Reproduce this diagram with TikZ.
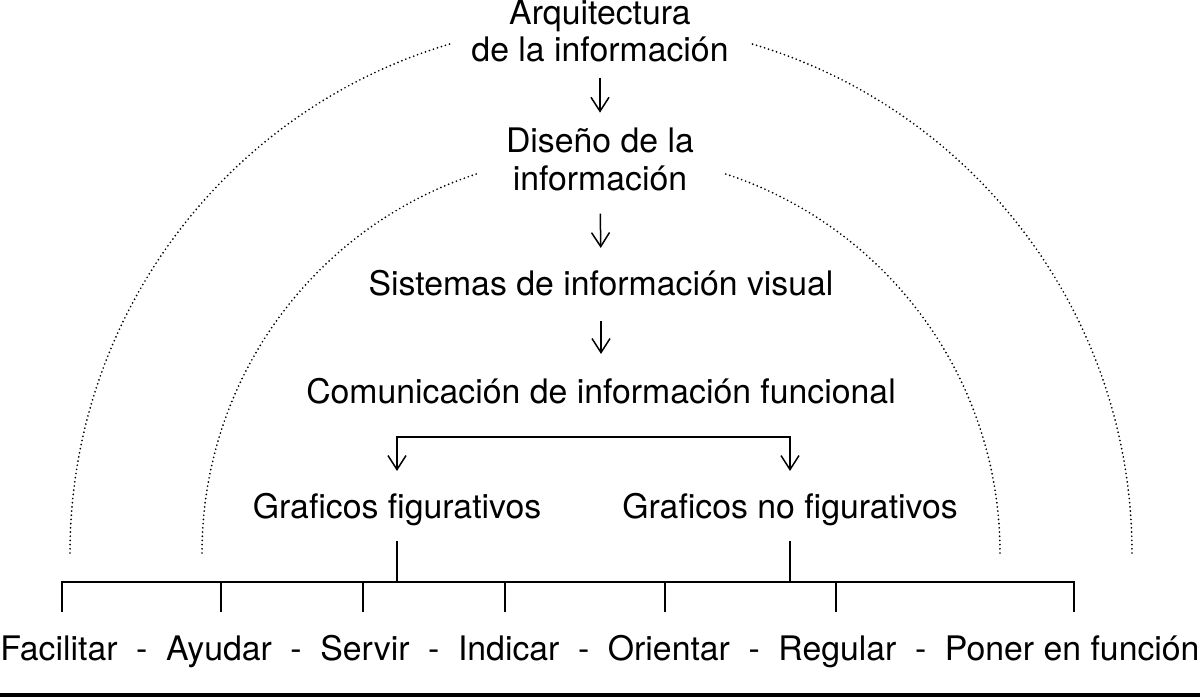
\documentclass[tikz,border=0pt]{standalone}
\usepackage{fontspec}
\setmainfont{TeX Gyre Heros}
\usetikzlibrary{arrows.meta}
\newcommand{\guion}{\hspace{0.55em}-\hspace{0.55em}}

\begin{document}
\begin{tikzpicture}[x=1pt,y=-1pt]
    \tikzstyle{every node}+=[inner sep=0pt, anchor=base, font=\fontsize{33.8}{37.5}\selectfont]
    \tikzstyle{texto}=[align=center]
    \tikzstyle{flecha}=[line width=1.5pt, -{Straight Barb[length=14pt,width=18pt]}]
    \tikzstyle{linea}=[line width=1.8pt]
    \tikzstyle{punteado}=[line width=1.9pt, line cap=round, dash pattern=on 0pt off 4.2pt]
    \useasboundingbox (0,0) rectangle (1200,698);
    % textos
    \node [texto] (arq) at (600,62) {Arquitectura\\de la información};
    \node [texto] (dis) at (600,190) {Diseño de la\\información};
    \node (sis) at (601,295) {Sistemas de información visual};
    \node (com) at (601,403) {Comunicación de información funcional};
    \node (gfig) at (397,518) {Graficos figurativos};
    \node (gnof) at (790,518) {Graficos no figurativos};
    \node (fun) at (600,660) {Facilitar\guion Ayudar\guion Servir\guion Indicar\guion Orientar\guion Regular\guion Poner en función};
    % flechas
    \draw [flecha, shorten <=15pt, shorten >=15pt] (arq.south) -- (dis.north);
    \draw [flecha, shorten <=23pt, shorten >=21.6pt] (dis.south) -- (sis.north);
    \draw [flecha, shorten <=25pt, shorten >=23.6pt] (sis.south) -- (com.north);
    \coordinate (brk) at (600,437);
    \draw [flecha, {Straight Barb[length=14pt,width=18pt]}-{Straight Barb[length=14pt,width=18pt]}, shorten <=21.6pt, shorten >=21.6pt] (gfig.north) |- (brk) -| (gnof.north);
    % barra inferior
    \coordinate (bus) at (600,582);
    \foreach \x [count=\i] in {62,221,363,505,665,836,1074} {
        \coordinate (t\i) at (\x,582);
        \coordinate (u\i) at (\x,612);
    }
    \draw [linea] (u1) -- (t1) -- (t7) -- (u7);
    \foreach \i in {2,...,6}
        \draw [linea] (t\i) -- (u\i);
    \draw [linea, shorten <=15pt] (gfig.south) -- (gfig.south |- bus);
    \draw [linea, shorten <=15pt] (gnof.south) -- (gnof.south |- bus);
    % arcos punteados
    \coordinate (centro) at (601,553);
    \draw [punteado] (centro) ++(-531,0) arc [start angle=180, end angle=253.8, radius=531];
    \draw [punteado] (centro) ++(531,0) arc [start angle=360, end angle=286.2, radius=531];
    \draw [punteado] (centro) ++(-399,0) arc [start angle=180, end angle=252.1, radius=399];
    \draw [punteado] (centro) ++(399,0) arc [start angle=360, end angle=287.9, radius=399];
    \draw [line width=4pt] (0,694.7) -- (1200,694.7);
\end{tikzpicture}
\end{document}
